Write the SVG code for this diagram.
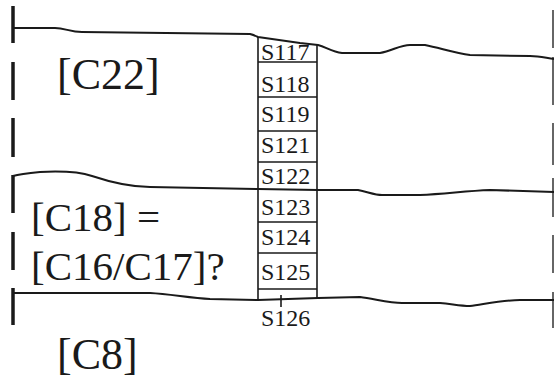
<svg xmlns="http://www.w3.org/2000/svg" width="554" height="383" viewBox="0 0 554 383">
<style>
.ln{fill:none;stroke:#1a1a1a;stroke-width:2;stroke-linejoin:round}
.col{fill:none;stroke:#1a1a1a;stroke-width:1.6}
.lb{font-family:"Liberation Serif","Times New Roman",serif;fill:#1a1a1a}
.big{font-size:44px}
.mid{font-size:41px}
.sm{font-size:24px}
.dl{stroke:#1a1a1a;stroke-width:3.5}
.dr{stroke:#333;stroke-width:1.5}
</style>
<rect width="554" height="383" fill="#fff"/>
<g id="left-edge">
<line class="dl" x1="13" y1="6" x2="13" y2="43"/>
<line class="dl" x1="13" y1="62" x2="13" y2="100"/>
<line class="dl" x1="13" y1="118" x2="13" y2="157"/>
<line class="dl" x1="13" y1="175" x2="13" y2="213"/>
<line class="dl" x1="13" y1="232" x2="13" y2="270"/>
<line class="dl" x1="13" y1="288" x2="13" y2="325"/>
</g>
<g id="right-edge">
<line class="dr" x1="553" y1="10" x2="553" y2="48"/>
<line class="dr" x1="553" y1="57" x2="553" y2="105"/>
<line class="dr" x1="553" y1="123" x2="553" y2="165"/>
<line class="dr" x1="553" y1="178" x2="553" y2="217"/>
<line class="dr" x1="553" y1="235" x2="553" y2="273"/>
<line class="dr" x1="553" y1="292" x2="553" y2="328"/>
</g>
<g id="boundaries">
<path class="ln" d="M13,28 L55,28 C65,28 70,32 82,32 L250,34 C254,35 256,36 258,37 L300,43 L318,45 C326,47 332,52 342,53 L380,53 C392,51 400,45 410,45 L425,45 C440,48 455,53 470,55 L530,56 C540,56 546,58 554,59"/>
<path class="ln" d="M13,176 C20,174 30,173 40,172 C60,171 80,172 92,176 C110,182 130,187 150,187 L258,189 L318,190 L358,190 C368,192 375,195 382,195 L420,195 C445,194 465,191 490,190 L554,192"/>
<path class="ln" d="M13,293 L150,293 C170,294 190,298 210,299 L258,300 L318,298 L360,297 C375,299 390,303 402,303 L440,303 C452,304 460,306 470,306 C485,304 505,300 520,300 L554,300"/>
</g>
<g id="column">
<line class="col" x1="258" y1="37" x2="258" y2="300"/>
<line class="col" x1="317" y1="45" x2="317" y2="298"/>
<line class="col" x1="258" y1="62" x2="317" y2="62"/>
<line class="col" x1="258" y1="97" x2="317" y2="97"/>
<line class="col" x1="258" y1="131" x2="317" y2="131"/>
<line class="col" x1="258" y1="162" x2="317" y2="162"/>
<line class="col" x1="258" y1="222" x2="317" y2="222"/>
<line class="col" x1="258" y1="253" x2="317" y2="253"/>
<line class="col" x1="258" y1="289" x2="317" y2="289"/>
<line class="col" x1="281" y1="295" x2="281" y2="307"/>
</g>
<g id="samples">
<text class="lb sm" x="261" y="60">S117</text>
<text class="lb sm" x="261" y="92">S118</text>
<text class="lb sm" x="261" y="122">S119</text>
<text class="lb sm" x="261" y="153">S121</text>
<text class="lb sm" x="261" y="184">S122</text>
<text class="lb sm" x="261" y="215">S123</text>
<text class="lb sm" x="261" y="245">S124</text>
<text class="lb sm" x="261" y="280">S125</text>
<text class="lb sm" x="261" y="326">S126</text>
</g>
<g id="C22"><text class="lb big" x="57" y="89">[C22]</text></g>
<g id="C18"><text class="lb mid" x="31" y="231">[C18] =</text><text class="lb mid" x="31" y="280">[C16/C17]?</text></g>
<g id="C8"><text class="lb big" x="57" y="369">[C8]</text></g>
</svg>
